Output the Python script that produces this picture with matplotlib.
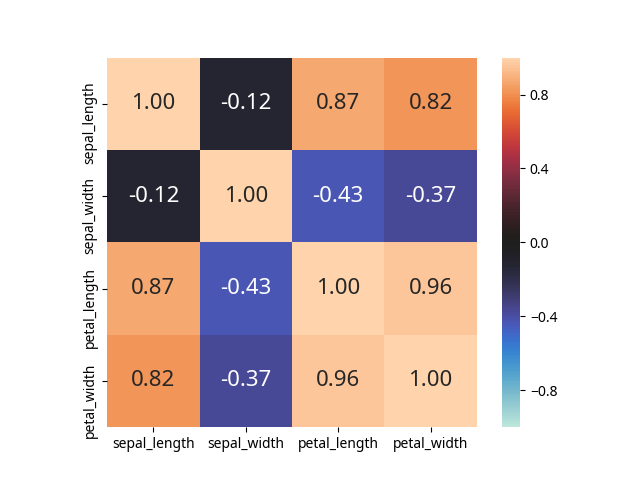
import numpy as np
import matplotlib
matplotlib.use('Agg')
import matplotlib.pyplot as plt
import matplotlib.transforms as mtransforms
import seaborn as sns

plt.rcParams['font.family'] = ['Noto Sans', 'DejaVu Sans']

labels = ['sepal_length', 'sepal_width', 'petal_length', 'petal_width']
corr = np.array([
    [1.00, -0.12, 0.87, 0.82],
    [-0.12, 1.00, -0.43, -0.37],
    [0.87, -0.43, 1.00, 0.96],
    [0.82, -0.37, 0.96, 1.00],
])
cbar_ticks = [-0.8, -0.4, 0.0, 0.4, 0.8]

fig = plt.figure(figsize=(6.4, 4.8), dpi=100)
ax = sns.heatmap(corr, vmin=-1, vmax=1, cmap='icefire', annot=True, fmt='.2f',
                 square=True, xticklabels=labels, yticklabels=labels,
                 annot_kws={'fontsize': 16},
                 cbar_kws={'ticks': cbar_ticks})

# y labels sit a bit below their ticks in the original
shift = mtransforms.ScaledTranslation(0, -0.19, fig.dpi_scale_trans)
for t in ax.get_yticklabels():
    t.set_transform(t.get_transform() + shift)

fig.savefig('out.png', dpi=100)
